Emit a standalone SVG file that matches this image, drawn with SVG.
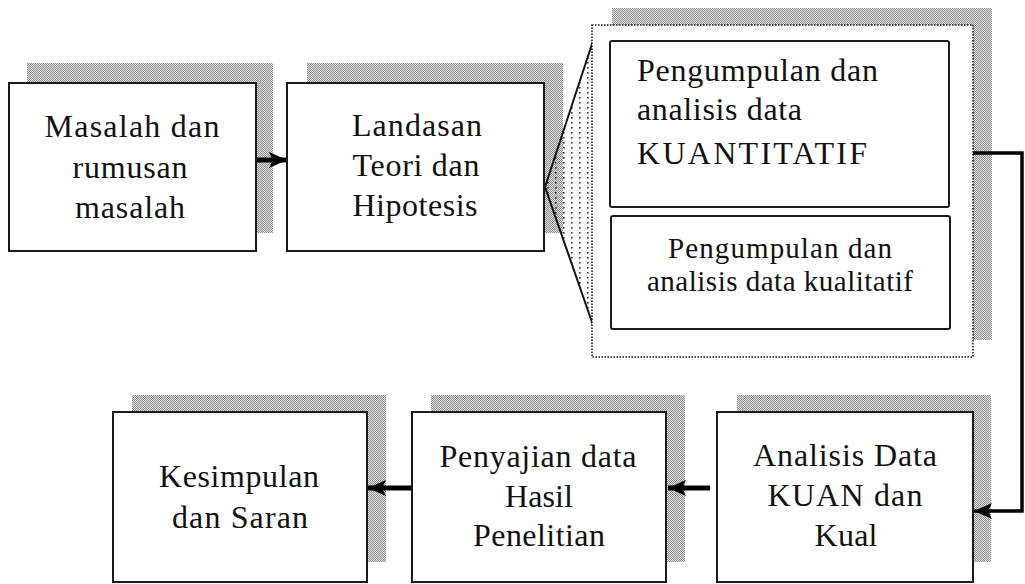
<svg xmlns="http://www.w3.org/2000/svg" width="1025" height="584" viewBox="0 0 1025 584">
<style>
.box{fill:#fff;stroke:#1a1a1a;stroke-width:2}
.inner{fill:#fff;stroke:#1a1a1a;stroke-width:2}
.shadow{fill:url(#dither)}
.t{font-family:"Liberation Serif","Times New Roman",serif;font-size:32px;fill:#111;text-anchor:middle}
.ts{font-family:"Liberation Serif","Times New Roman",serif;font-size:29px;fill:#111;text-anchor:middle}
.tl{font-family:"Liberation Serif","Times New Roman",serif;font-size:32px;fill:#111}
.conn{fill:none;stroke:#000;stroke-width:5}
.conn2{fill:none;stroke:#000;stroke-width:3.5}
</style>
<defs>
<pattern id="dither" width="2" height="2" patternUnits="userSpaceOnUse">
<rect width="2" height="2" fill="#e2e2e2"/>
<rect width="1" height="1" fill="#8c8c8c"/>
<rect x="1" y="1" width="1" height="1" fill="#8c8c8c"/>
</pattern>
<pattern id="dots" width="8" height="5" patternUnits="userSpaceOnUse">
<rect x="3" y="2" width="1.6" height="1.6" fill="#333"/>
</pattern>
<marker id="arr" markerUnits="userSpaceOnUse" markerWidth="20" markerHeight="20" refX="18" refY="10" orient="auto">
<path d="M0,2 L18,10 L0,18 L4,10 Z" fill="#000"/>
</marker>
</defs>

<g id="shadows">
<rect class="shadow" x="27" y="63" width="246" height="170"/>
<rect class="shadow" x="307" y="63" width="256" height="170"/>
<rect class="shadow" x="612" y="8" width="380" height="332"/>
<rect class="shadow" x="132" y="395" width="254" height="167"/>
<rect class="shadow" x="431" y="395" width="254" height="167"/>
<rect class="shadow" x="737" y="395" width="254" height="167"/>
</g>

<g id="connectors">
<polygon points="545,187 593,41 593,325" fill="url(#dots)" stroke="none"/>
<polyline points="545,187 593,41" fill="none" stroke="#111" stroke-width="2"/>
<polyline points="545,187 593,325" fill="none" stroke="#111" stroke-width="2"/>
<line class="conn" x1="256" y1="160" x2="287" y2="160" marker-end="url(#arr)"/>
<polyline class="conn2" points="973,153 1022,153 1022,511 974,511" marker-end="url(#arr)"/>
<line class="conn" x1="710" y1="488" x2="668" y2="488" marker-end="url(#arr)"/>
<line class="conn" x1="412" y1="488" x2="368" y2="488" marker-end="url(#arr)"/>
</g>

<g id="node-masalah">
<rect class="box" x="9" y="83" width="247" height="168"/>
<text class="t" x="132" y="137" textLength="175" lengthAdjust="spacing">Masalah dan</text>
<text class="t" x="130" y="178" textLength="115" lengthAdjust="spacing">rumusan</text>
<text class="t" x="130" y="218" textLength="110" lengthAdjust="spacing">masalah</text>
</g>

<g id="node-landasan">
<rect class="box" x="287" y="83" width="257" height="168"/>
<text class="t" x="417" y="136" textLength="130" lengthAdjust="spacing">Landasan</text>
<text class="t" x="416" y="176" textLength="127" lengthAdjust="spacing">Teori dan</text>
<text class="t" x="415" y="216" textLength="125" lengthAdjust="spacing">Hipotesis</text>
</g>

<g id="node-pengumpulan">
<rect x="592" y="25" width="381" height="332" fill="#fff" stroke="#111" stroke-width="1.5" stroke-dasharray="1.5 1.5"/>
<g id="node-kuantitatif">
<rect class="inner" x="610" y="41" width="339" height="166" rx="2"/>
<text class="tl" x="637" y="81" textLength="241" lengthAdjust="spacing">Pengumpulan dan</text>
<text class="tl" x="637" y="120" textLength="165" lengthAdjust="spacing">analisis data</text>
<text class="tl" x="637" y="164" textLength="230" lengthAdjust="spacing">KUANTITATIF</text>
</g>
<g id="node-kualitatif">
<rect class="inner" x="611" y="216" width="339" height="113" rx="2"/>
<text class="ts" x="780" y="258" textLength="224" lengthAdjust="spacing">Pengumpulan dan</text>
<text class="ts" x="780" y="291" textLength="266" lengthAdjust="spacing">analisis data kualitatif</text>
</g>
</g>

<g id="node-analisis">
<rect class="box" x="717" y="412" width="256" height="170"/>
<text class="t" x="845" y="466" textLength="184" lengthAdjust="spacing">Analisis Data</text>
<text class="t" x="845" y="506" textLength="155" lengthAdjust="spacing">KUAN dan</text>
<text class="t" x="846" y="546" textLength="63" lengthAdjust="spacing">Kual</text>
</g>

<g id="node-penyajian">
<rect class="box" x="412" y="412" width="254" height="170"/>
<text class="t" x="538" y="467" textLength="197" lengthAdjust="spacing">Penyajian data</text>
<text class="t" x="539" y="507" textLength="68" lengthAdjust="spacing">Hasil</text>
<text class="t" x="539" y="546" textLength="132" lengthAdjust="spacing">Penelitian</text>
</g>

<g id="node-kesimpulan">
<rect class="box" x="113" y="412" width="254" height="170"/>
<text class="t" x="239" y="487" textLength="160" lengthAdjust="spacing">Kesimpulan</text>
<text class="t" x="240" y="528" textLength="136" lengthAdjust="spacing">dan Saran</text>
</g>
</svg>
